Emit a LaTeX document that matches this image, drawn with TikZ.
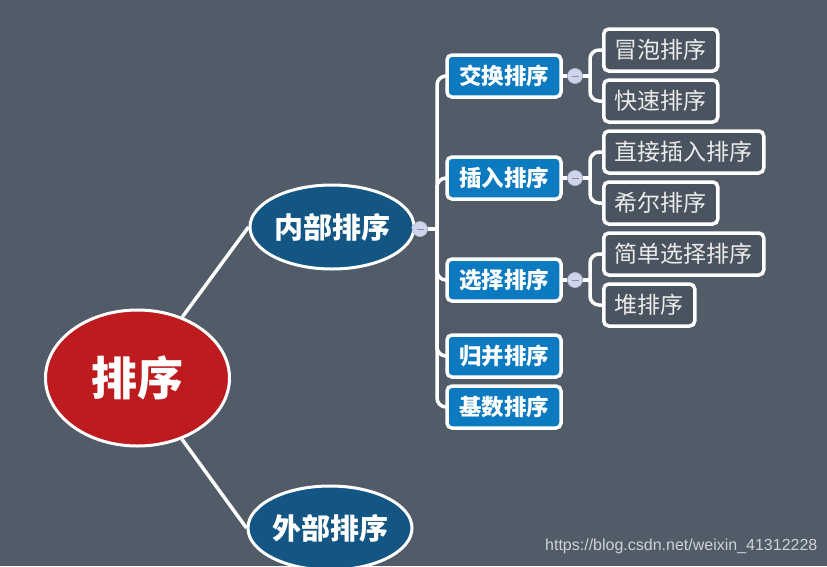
\documentclass[tikz,border=0pt]{standalone}
\usepackage{fontspec}
\setmainfont{Liberation Sans}
\newfontfamily\cjk{Noto Sans CJK SC}
\usetikzlibrary{shapes.geometric}
\definecolor{bgc}{RGB}{81,92,104}
\definecolor{rootred}{RGB}{190,27,30}
\definecolor{ellblue}{RGB}{19,86,132}
\definecolor{boxblue}{RGB}{12,122,192}
\definecolor{leafbg}{RGB}{74,84,96}
\definecolor{foldc}{RGB}{205,212,235}
\definecolor{foldline}{RGB}{135,145,170}
\definecolor{leaftext}{RGB}{236,236,236}
\definecolor{wmark}{RGB}{205,210,215}
\tikzset{
  rootnode/.style={ellipse, draw=white, line width=3pt, fill=rootred, minimum width=184pt, minimum height=136pt, inner sep=0pt, text=white, font=\cjk\bfseries\fontsize{46}{48}\selectfont},
  ellnode/.style={ellipse, draw=white, line width=3pt, fill=ellblue, minimum width=150pt, minimum height=84pt, inner sep=0pt, text=white, font=\cjk\bfseries\fontsize{29}{31}\selectfont},
  bluebox/.style={rectangle, rounded corners=5pt, draw=white, line width=3.5pt, fill=boxblue, minimum width=114pt, minimum height=42pt, inner sep=0pt, text=white, font=\cjk\bfseries\fontsize{22.5}{24}\selectfont},
  leafbox/.style={rectangle, rounded corners=5pt, draw=white, line width=3.5pt, fill=leafbg, minimum height=42pt, inner xsep=11pt, inner ysep=0pt, text=leaftext, font=\cjk\fontsize{23}{25}\selectfont, anchor=west},
  fold/.style={circle, draw=foldc!85!black, line width=0.4pt, fill=foldc, minimum size=15pt, inner sep=0pt},
  conn/.style={draw=white, line width=3.5pt},
  bconn/.style={draw=white, line width=3.5pt, rounded corners=9pt},
}
\newcommand{\foldmark}[1]{\draw[foldline, line width=0.9pt] ([xshift=-3.5pt]#1.center) -- ([xshift=3.5pt]#1.center);}
\begin{document}
\begin{tikzpicture}[x=1pt,y=-1pt]
\fill[bgc] (0,0) rectangle (827,566);
\useasboundingbox (0,0) rectangle (827,566);

% nodes
\node[rootnode] (root) at (137.5,378) {排序};
\node[ellnode] (inner) at (332,227) {内部排序};
\node[ellnode] (outer) at (330,528) {外部排序};

\node[bluebox] (b1) at (504,76) {交换排序};
\node[bluebox] (b2) at (504,178) {插入排序};
\node[bluebox] (b3) at (504,280) {选择排序};
\node[bluebox] (b4) at (504,356) {归并排序};
\node[bluebox] (b5) at (504,407) {基数排序};

\node[leafbox] (l1) at (602,50) {冒泡排序};
\node[leafbox] (l2) at (602,101) {快速排序};
\node[leafbox] (l3) at (602,152) {直接插入排序};
\node[leafbox] (l4) at (602,203) {希尔排序};
\node[leafbox] (l5) at (602,254) {简单选择排序};
\node[leafbox] (l6) at (602,305) {堆排序};

% connectors root
\draw[conn] (root) -- (inner.west);
\draw[conn] (root) -- (outer.west);

% fold marks
\node[fold] (f0) at (420,229) {};
\node[fold] (f1) at (575,76) {};
\node[fold] (f2) at (575,178) {};
\node[fold] (f3) at (575,280) {};

\coordinate (s0) at (437,229);
\coordinate (s1) at (590,76);
\coordinate (s2) at (590,178);
\coordinate (s3) at (590,280);

\draw[conn] (inner.east) -- (f0.west);
\draw[conn] (f0.east) -- (s0);
\foreach \b in {b1,b2,b3,b4,b5}{\draw[bconn] (s0) |- (\b.west);}
\draw[conn] (b1.east) -- (f1.west);
\draw[conn] (b2.east) -- (f2.west);
\draw[conn] (b3.east) -- (f3.west);
\draw[conn] (f1.east) -- (s1);
\draw[conn] (f2.east) -- (s2);
\draw[conn] (f3.east) -- (s3);
\draw[bconn] (s1) |- (l1.west);
\draw[bconn] (s1) |- (l2.west);
\draw[bconn] (s2) |- (l3.west);
\draw[bconn] (s2) |- (l4.west);
\draw[bconn] (s3) |- (l5.west);
\draw[bconn] (s3) |- (l6.west);

% redraw fold circles over lines
\node[fold] at (f0) {};
\node[fold] at (f1) {};
\node[fold] at (f2) {};
\node[fold] at (f3) {};
\foldmark{f0}\foldmark{f1}\foldmark{f2}\foldmark{f3}

\node[anchor=west, text=wmark, font=\fontsize{16}{18}\selectfont, inner sep=0pt] (wm) at (545,546) {https://blog.csdn.net/weixin\_41312228};
\end{tikzpicture}
\end{document}
